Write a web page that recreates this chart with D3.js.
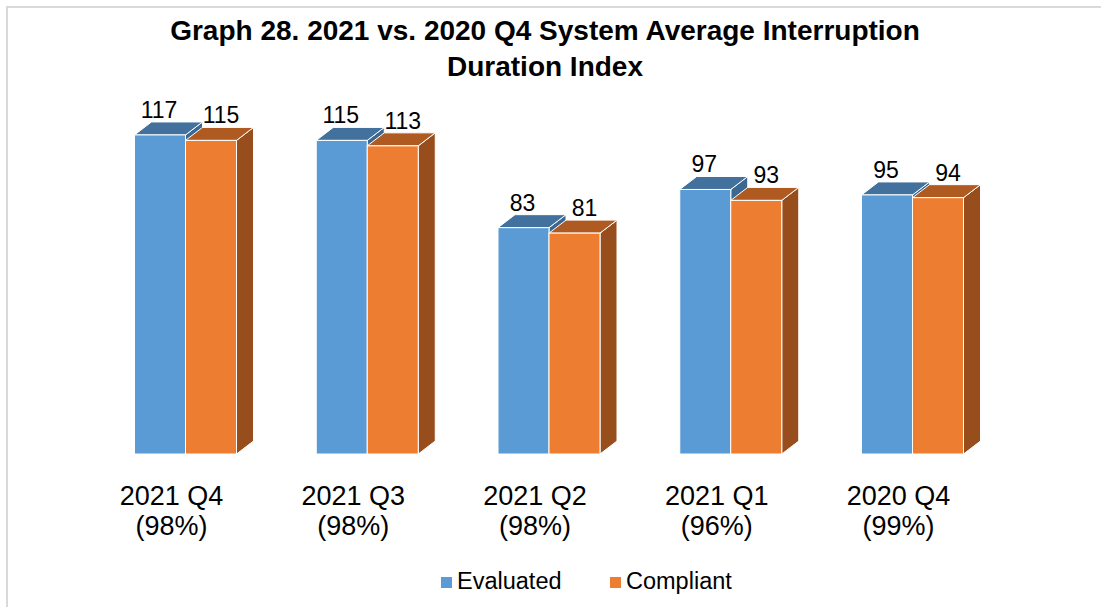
<!DOCTYPE html>
<html>
<head>
<meta charset="utf-8">
<script src="https://cdn.jsdelivr.net/npm/d3@7"></script>
<style>
  body { margin: 0; background: #fff; }
  text { font-family: "Liberation Sans", Arial, sans-serif; fill: #000; }
</style>
</head>
<body>
<div id="chart"></div>
<script>
const categories = ["2021 Q4", "2021 Q3", "2021 Q2", "2021 Q1", "2020 Q4"];
const shares = ["(98%)", "(98%)", "(98%)", "(96%)", "(99%)"];
const evaluated = [117, 115, 83, 97, 95];
const compliant = [115, 113, 81, 93, 94];
const seriesNames = ["Evaluated", "Compliant"];
const titleLines = ["Graph 28. 2021 vs. 2020 Q4 System Average Interruption", "Duration Index"];

const W = 1101, H = 607;
const BAR_W = 51, DX = 17, DY = -13;

const colors = {
    Evaluated: {front: "#5b9bd5", top: "#41719c", side: "#3b6891"},
    Compliant: {front: "#ed7d31", top: "#ae5a21", side: "#984d1c"}
};

const svg = d3.select("#chart").append("svg")
    .attr("width", W).attr("height", H);

svg.append("rect")
    .attr("x", 7).attr("y", 7)
    .attr("width", W + 20).attr("height", H + 20)
    .attr("fill", "#fff")
    .attr("stroke", "#d9d9d9")
    .attr("stroke-width", 2);

// title
svg.append("g").selectAll("text").data(titleLines).enter().append("text")
    .attr("x", 545)
    .attr("y", (d, i) => 40 + i * 36)
    .attr("text-anchor", "middle")
    .attr("font-size", 28)
    .attr("font-weight", "bold")
    .text(d => d);

const x = d3.scalePoint().domain(categories).range([185.5, 912.5]);
const y = d3.scaleLinear().domain([0, 120]).range([454, 454 - 120 * 2.727]);

const data = categories.map((c, i) => ({cat: c, share: shares[i], values: [
    {series: "Evaluated", value: evaluated[i], x0: x(c) - BAR_W},
    {series: "Compliant", value: compliant[i], x0: x(c)}
]}));

const groups = svg.append("g").selectAll("g").data(data).enter().append("g");

groups.each(function(d) {
    const g = d3.select(this);
    d.values.forEach(b => {
        const c = colors[b.series];
        const x0 = b.x0, x1 = b.x0 + BAR_W, y0 = y(0), y1 = y(b.value);
        // side face
        g.append("path")
            .attr("d", `M${x1},${y1}L${x1 + DX},${y1 + DY}L${x1 + DX},${y0 + DY}L${x1},${y0}Z`)
            .attr("fill", c.side).attr("stroke", "#fff").attr("stroke-width", 1);
        // top face
        g.append("path")
            .attr("d", `M${x0},${y1}L${x0 + DX},${y1 + DY}L${x1 + DX},${y1 + DY}L${x1},${y1}Z`)
            .attr("fill", c.top).attr("stroke", "#fff").attr("stroke-width", 1);
        // front face
        g.append("rect")
            .attr("x", x0).attr("y", y1)
            .attr("width", BAR_W).attr("height", y0 - y1)
            .attr("fill", c.front).attr("stroke", "#fff").attr("stroke-width", 1);
    });
    d.values.forEach(b => {
        g.append("text")
            .attr("x", b.x0 + BAR_W / 2 + (b.series === "Evaluated" ? -1 : 10))
            .attr("y", y(b.value) - 17)
            .attr("text-anchor", "middle")
            .attr("font-size", 23)
            .text(b.value);
    });
});

// category labels
const labels = svg.append("g").selectAll("text").data(data).enter().append("text")
    .attr("text-anchor", "middle")
    .attr("font-size", 27);
labels.append("tspan").attr("x", d => x(d.cat) - 14).attr("y", 505).text(d => d.cat);
labels.append("tspan").attr("x", d => x(d.cat) - 14).attr("y", 535).text(d => d.share);

// legend
const legendX = [441, 610];
const legend = svg.append("g").selectAll("g").data(seriesNames).enter().append("g")
    .attr("transform", (d, i) => `translate(${legendX[i]},577)`);
legend.append("rect")
    .attr("width", 11).attr("height", 11)
    .attr("fill", d => colors[d].front);
legend.append("text")
    .attr("x", 16).attr("y", 12)
    .attr("font-size", 23.5)
    .text(d => d);
</script>
</body>
</html>
